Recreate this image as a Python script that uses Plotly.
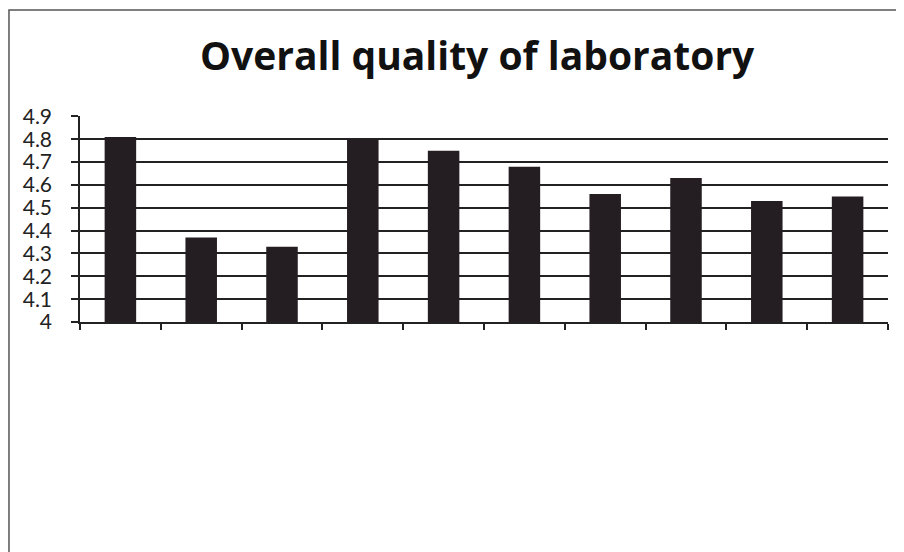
import plotly.graph_objects as go

# bar values
categories = [1, 2, 3, 4, 5, 6, 7, 8, 9, 10]
scores = [4.81, 4.37, 4.33, 4.80, 4.75, 4.68, 4.56, 4.63, 4.53, 4.55]
y_ticks = [4.0, 4.1, 4.2, 4.3, 4.4, 4.5, 4.6, 4.7, 4.8, 4.9]
y_labels = ["4", "4.1", "4.2", "4.3", "4.4", "4.5", "4.6", "4.7", "4.8", "4.9"]
boundaries = [0.5, 1.5, 2.5, 3.5, 4.5, 5.5, 6.5, 7.5, 8.5, 9.5, 10.5]

fig = go.Figure()

fig.add_trace(go.Bar(
    x=categories, y=scores, width=0.39,
    marker=dict(color='#241e23', line=dict(width=0)),
    showlegend=False
))

fig.update_layout(
    width=904, height=552,
    title=dict(text="<b>Overall quality of laboratory</b>", x=0.519, xanchor='center',
               y=0.912, yanchor='middle',
               font=dict(family="Open Sans", size=39, color='#111111')),
    plot_bgcolor='white', paper_bgcolor='white',
    margin=dict(l=72, r=24, t=108, b=238, autoexpand=False),
    xaxis=dict(range=[0.5, 10.5], tickmode='array', tickvals=boundaries,
               ticktext=[""] * len(boundaries), ticks='outside', ticklen=6,
               tickcolor='#222222', tickwidth=1.5, showgrid=False,
               showline=True, linecolor='#222222', linewidth=1.5, zeroline=False),
    yaxis=dict(range=[4.0, 4.902], tickmode='array', tickvals=y_ticks, ticktext=y_labels,
               ticks='outside', ticklen=7, tickcolor='#222222', tickwidth=1.5,
               showgrid=True, gridcolor='#222222', gridwidth=1.5,
               showline=True, linecolor='#222222', linewidth=1.5, zeroline=False,
               ticklabelstandoff=15,
               tickfont=dict(family="Lato", size=21, color='#222222')),
)

# outer chart frame
fig.add_shape(type='rect', xref='paper', yref='paper',
              x0=-0.0879, x1=1.0173, y0=-1.3, y1=1.5146,
              line=dict(color='#555555', width=1.5), layer='below')

fig.write_html("out.html")
